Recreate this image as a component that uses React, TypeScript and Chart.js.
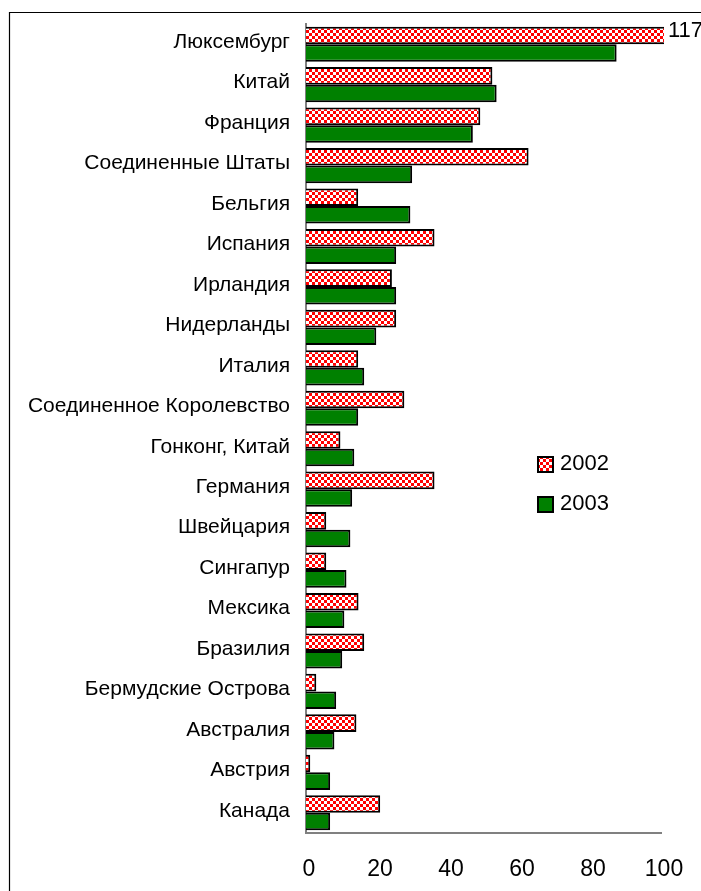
import { useEffect, useRef } from "react";
import { Chart, registerables } from "chart.js";

Chart.register(...registerables);

const categories = [
  "Люксембург",
  "Китай",
  "Франция",
  "Соединенные Штаты",
  "Бельгия",
  "Испания",
  "Ирландия",
  "Нидерланды",
  "Италия",
  "Соединенное Королевство",
  "Гонконг, Китай",
  "Германия",
  "Швейцария",
  "Сингапур",
  "Мексика",
  "Бразилия",
  "Бермудские Острова",
  "Австралия",
  "Австрия",
  "Канада",
];

const values2002 = [117, 52.5, 49.1, 62.7, 14.7, 36.2, 24.2, 25.4, 14.7, 27.7, 9.7, 36.2, 5.7, 5.7, 14.8, 16.4, 2.9, 14.2, 1.2, 20.9];
const values2003 = [87.5, 53.7, 47.0, 29.9, 29.4, 25.4, 25.4, 19.8, 16.4, 14.7, 13.6, 13.0, 12.5, 11.4, 10.8, 10.2, 8.5, 8.0, 6.8, 6.8];

const seriesLabels = ["2002", "2003"];
const xMin = 0;
const xMax = 100;
const xStep = 20;

const FONT = "'Liberation Sans', Arial, sans-serif";

function makeChecker(): CanvasPattern | string {
  const pc = document.createElement("canvas");
  pc.width = 6;
  pc.height = 6;
  const c = pc.getContext("2d");
  if (!c) return "#ff0000";
  c.fillStyle = "#ffffff";
  c.fillRect(0, 0, 6, 6);
  c.fillStyle = "#ff0000";
  c.fillRect(0, 0, 3, 3);
  c.fillRect(3, 3, 3, 3);
  const p = c.createPattern(pc, "repeat");
  return p || "#ff0000";
}

export default function App() {
  const ref = useRef<HTMLCanvasElement | null>(null);

  useEffect(() => {
    const canvas = ref.current;
    if (!canvas) return;
    const checker = makeChecker();
    const green = "#008000";

    const overlay = {
      id: "overlay",
      afterDraw(chart: any) {
        const ctx = chart.ctx as CanvasRenderingContext2D;
        const area = chart.chartArea;
        ctx.save();
        // outer frame (left and top only visible)
        ctx.strokeStyle = "#000000";
        ctx.lineWidth = 1.2;
        ctx.beginPath();
        ctx.moveTo(9.5, 891);
        ctx.lineTo(9.5, 12.5);
        ctx.lineTo(701, 12.5);
        ctx.stroke();

        // overflow label for clipped bar
        const meta = chart.getDatasetMeta(0);
        values2002.forEach((v, i) => {
          if (v > xMax) {
            const el = meta.data[i];
            ctx.fillStyle = "#000000";
            ctx.font = `22px ${FONT}`;
            ctx.textAlign = "left";
            ctx.textBaseline = "middle";
            ctx.fillText(String(v), area.right + 7, el.y - 4);
          }
        });

        // legend
        const fills = [checker, green];
        const lx = 537;
        const ly = [464, 504];
        ctx.font = `22px ${FONT}`;
        ctx.textAlign = "left";
        ctx.textBaseline = "middle";
        seriesLabels.forEach((lab, i) => {
          ctx.fillStyle = fills[i] as any;
          ctx.fillRect(lx, ly[i] - 8, 17, 17);
          ctx.strokeStyle = "#000000";
          ctx.lineWidth = 2;
          ctx.strokeRect(lx + 1, ly[i] - 7, 15, 15);
          ctx.fillStyle = "#000000";
          ctx.fillText(lab, lx + 23, ly[i]);
        });
        ctx.restore();
      },
    };

    const chart = new Chart(canvas, {
      type: "bar",
      data: {
        labels: categories,
        datasets: [
          {
            label: seriesLabels[0],
            data: values2002,
            backgroundColor: checker as any,
            borderColor: "#000000",
            borderWidth: 2,
            borderSkipped: "start",
            clip: { left: 5, top: 5, right: 3, bottom: 5 } as any,
          },
          {
            label: seriesLabels[1],
            data: values2003,
            backgroundColor: green,
            borderColor: "#000000",
            borderWidth: 2,
            borderSkipped: "start",
          },
        ],
      },
      options: {
        indexAxis: "y",
        responsive: false,
        animation: false,
        devicePixelRatio: 1,
        layout: { padding: { left: 0, top: 24, right: 40, bottom: 0 } },
        datasets: {
          bar: { categoryPercentage: 0.87, barPercentage: 1.0 },
        },
        plugins: {
          legend: { display: false },
          tooltip: { enabled: false },
        },
        scales: {
          x: {
            type: "linear",
            min: xMin,
            max: xMax,
            ticks: {
              stepSize: xStep,
              color: "#000000",
              padding: 15,
              labelOffset: 3,
              font: { family: FONT, size: 23 },
            },
            grid: { display: false },
            border: { display: true, color: "#808080", width: 2 },
            afterFit(scale: any) {
              scale.height = 58;
            },
          },
          y: {
            type: "category",
            ticks: {
              color: "#000000",
              padding: 8,
              labelOffset: -2,
              font: { family: FONT, size: 21 },
              autoSkip: false,
            },
            grid: { display: false },
            border: { display: true, color: "#808080", width: 2 },
            afterFit(scale: any) {
              scale.width = 306;
            },
          },
        },
      },
      plugins: [overlay],
    });

    return () => {
      chart.destroy();
    };
  }, []);

  return (
    <div style={{ position: "absolute", left: 0, top: 0, width: 701, height: 891, background: "#ffffff" }}>
      <canvas ref={ref} width={701} height={891} style={{ display: "block", width: 701, height: 891 }} />
    </div>
  );
}
